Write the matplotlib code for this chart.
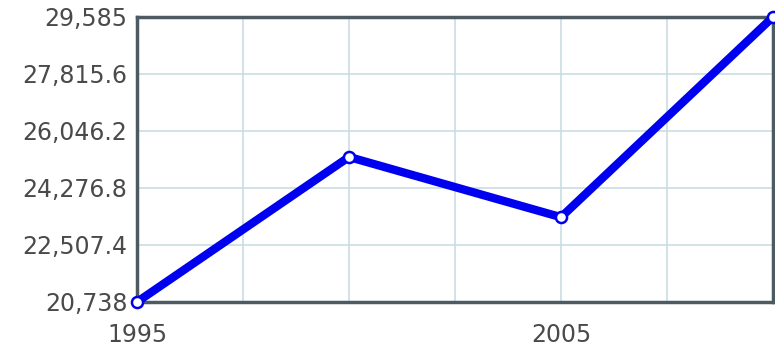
import numpy as np
import matplotlib
matplotlib.use("Agg")
from matplotlib import pyplot as plt

### data
years = [1995, 2000, 2005, 2010]
values = [20738, 25240, 23370, 29585]
ytick_vals = [20738, 22507.4, 24276.8, 26046.2, 27815.6, 29585]
ytick_labels = ["20,738", "22,507.4", "24,276.8", "26,046.2", "27,815.6", "29,585"]
xgrid_vals = [1995, 1997.5, 2000, 2002.5, 2005, 2007.5, 2010]
xtick_labels = ["1995", "", "", "", "2005", "", ""]

fig = plt.figure(figsize=(7.75, 3.49), dpi=100)
ax = fig.add_axes([0.1768, 0.1347, 0.8206, 0.8166])

ax.plot(years, values, color="#0000f0", lw=6, solid_capstyle="round",
        marker="o", ms=8, mfc="white", mec="#0000f0", mew=1.8,
        clip_on=False, zorder=5)

ax.set_xlim(1995, 2010)
ax.set_ylim(20738, 29585)
ax.set_xticks(xgrid_vals)
ax.set_xticklabels(xtick_labels)
ax.set_yticks(ytick_vals)
ax.set_yticklabels(ytick_labels)
ax.grid(True, color="#c9dde2", lw=1.2)
ax.set_axisbelow(True)
ax.tick_params(length=0, labelsize=17, labelcolor="#4a4a4a")
ax.tick_params(axis="y", pad=7)
ax.tick_params(axis="x", pad=15)

for s in ax.spines.values():
    s.set_color("#4d5a62")
    s.set_linewidth(2.5)

fig.savefig("out.png", dpi=100)
